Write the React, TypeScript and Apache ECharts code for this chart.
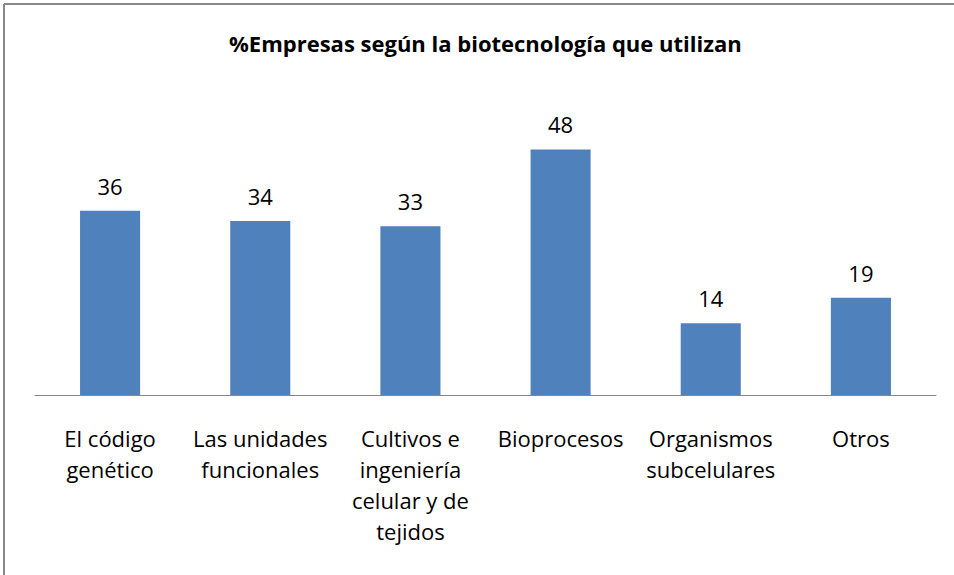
import React, { useEffect, useRef } from "react";
import * as echarts from "echarts";

const titleText = "%Empresas según la biotecnología que utilizan";
const categories = [
  "El código genético",
  "Las unidades funcionales",
  "Cultivos e ingeniería celular y de tejidos",
  "Bioprocesos",
  "Organismos subcelulares",
  "Otros",
];
const wrappedLabels = [
  "El código\ngenético",
  "Las unidades\nfuncionales",
  "Cultivos e\ningeniería\ncelular y de\ntejidos",
  "Bioprocesos",
  "Organismos\nsubcelulares",
  "Otros",
];
const values = [36, 34, 33, 48, 14, 19];

const FONT = "'Open Sans', sans-serif";

export default function App() {
  const ref = useRef<HTMLDivElement>(null);
  useEffect(() => {
    if (!ref.current) return;
    const chart = echarts.init(ref.current, undefined, { renderer: "svg" });
    chart.setOption({
      animation: false,
      backgroundColor: "#ffffff",
      title: {
        text: titleText,
        left: 229,
        top: 32,
        padding: 0,
        textStyle: { fontFamily: FONT, fontSize: 22, fontWeight: "bold", color: "#000000" },
      },
      grid: { left: 35, right: 18, top: 88, bottom: 180, containLabel: false },
      xAxis: {
        type: "category",
        data: categories,
        axisLine: { show: true, lineStyle: { color: "#868686", width: 1 } },
        axisTick: { show: false },
        axisLabel: {
          interval: 0,
          margin: 27,
          fontFamily: FONT,
          fontSize: 22,
          lineHeight: 31,
          color: "#000000",
          formatter: (_v: string, i: number) => wrappedLabels[i],
        },
      },
      yAxis: {
        type: "value",
        min: 0,
        max: 60,
        show: false,
        splitLine: { show: false },
      },
      series: [
        {
          type: "bar",
          data: values,
          barWidth: "40%",
          itemStyle: { color: "#4F81BD" },
          label: {
            show: true,
            position: "top",
            distance: 14,
            fontFamily: FONT,
            fontSize: 22,
            color: "#000000",
          },
        },
      ],
      graphic: [
        { type: "line", shape: { x1: 4, y1: 4, x2: 954, y2: 4 }, style: { stroke: "#888888", lineWidth: 2 } },
        { type: "line", shape: { x1: 4, y1: 4, x2: 4, y2: 575 }, style: { stroke: "#888888", lineWidth: 2 } },
      ],
    });
    return () => chart.dispose();
  }, []);
  return (
    <div
      ref={ref}
      style={{ position: "fixed", left: 0, top: 0, width: 954, height: 575 }}
    />
  );
}
